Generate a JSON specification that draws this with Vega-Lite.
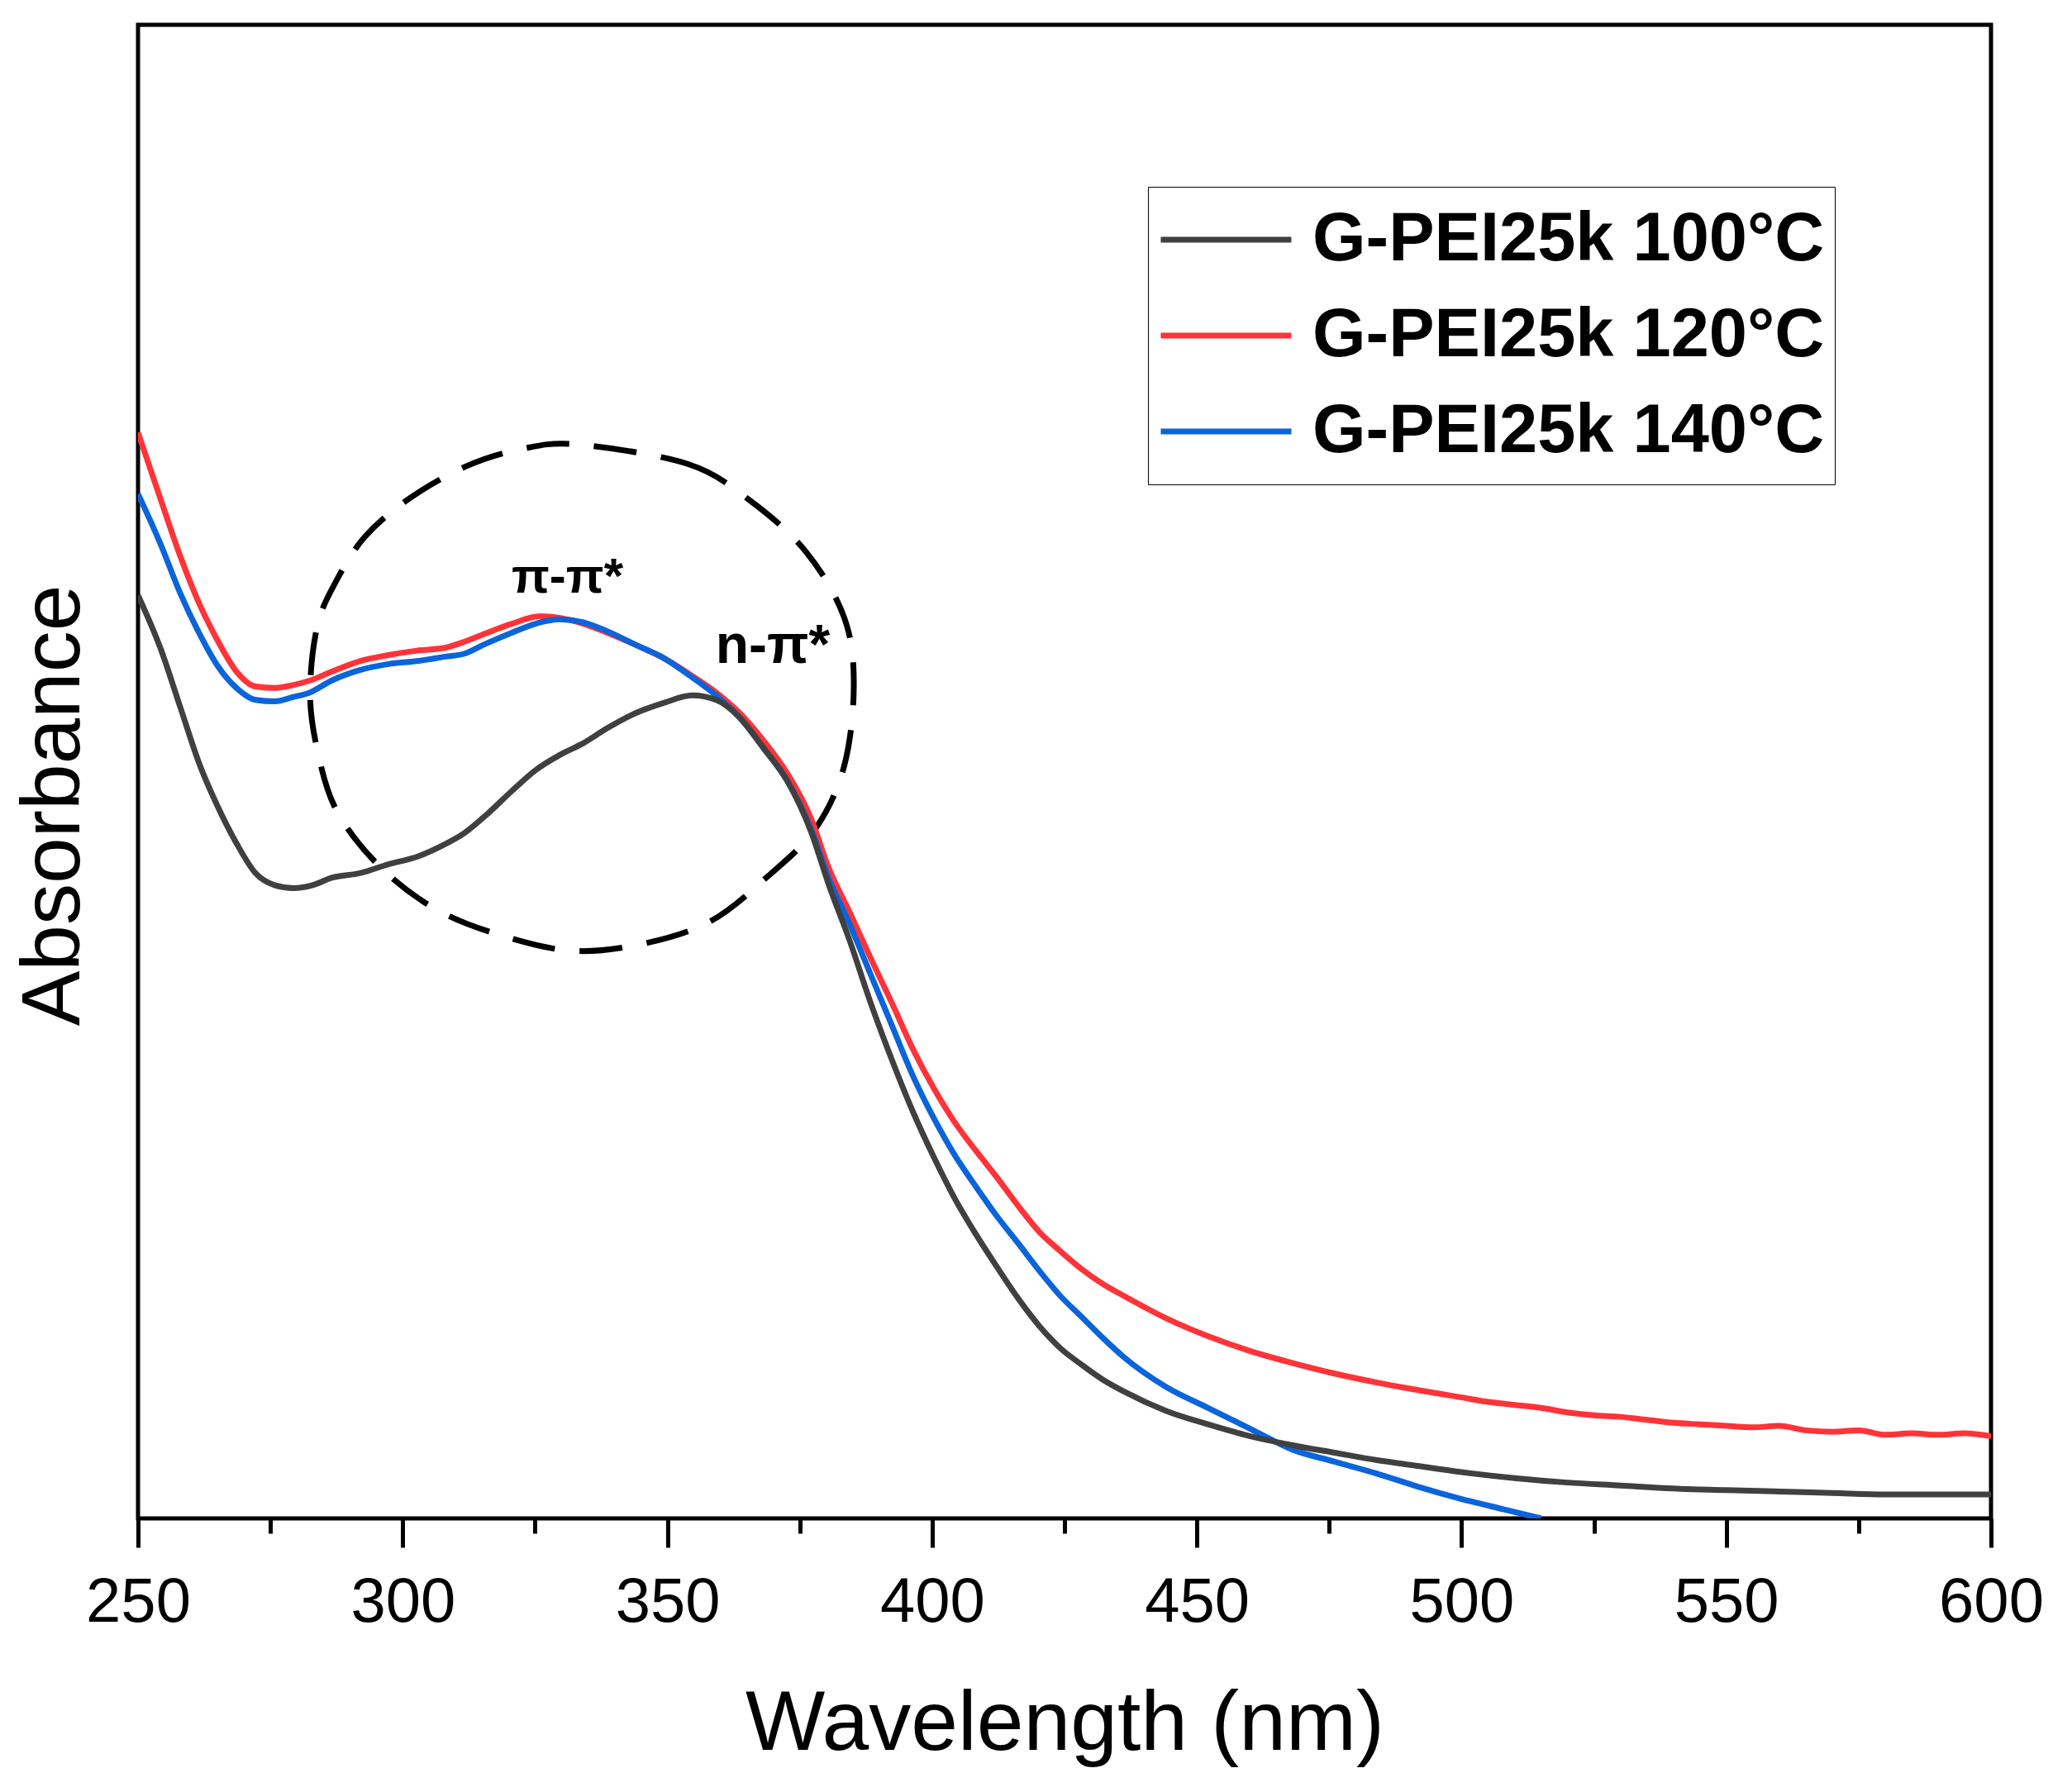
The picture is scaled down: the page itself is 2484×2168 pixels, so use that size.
{
  "$schema": "https://vega.github.io/schema/vega-lite/v6.json",
  "width": 2242,
  "height": 1807,
  "autosize": "none",
  "padding": {"left": 167, "top": 30, "right": 75, "bottom": 331},
  "background": "white",
  "config": {
    "font": "Liberation Sans",
    "view": {"stroke": "#000000", "strokeWidth": 5}
  },
  "datasets": {
    "spectra": [
      {"wl": 250, "abs": 0.727, "sample": "G-PEI25k 120°C"},
      {"wl": 254.3, "abs": 0.682, "sample": "G-PEI25k 120°C"},
      {"wl": 257.9, "abs": 0.645, "sample": "G-PEI25k 120°C"},
      {"wl": 261.5, "abs": 0.613, "sample": "G-PEI25k 120°C"},
      {"wl": 265.0, "abs": 0.588, "sample": "G-PEI25k 120°C"},
      {"wl": 268.6, "abs": 0.567, "sample": "G-PEI25k 120°C"},
      {"wl": 272.2, "abs": 0.557, "sample": "G-PEI25k 120°C"},
      {"wl": 275.8, "abs": 0.556, "sample": "G-PEI25k 120°C"},
      {"wl": 279.4, "abs": 0.558, "sample": "G-PEI25k 120°C"},
      {"wl": 282.5, "abs": 0.561, "sample": "G-PEI25k 120°C"},
      {"wl": 286.6, "abs": 0.567, "sample": "G-PEI25k 120°C"},
      {"wl": 291.9, "abs": 0.574, "sample": "G-PEI25k 120°C"},
      {"wl": 297.3, "abs": 0.578, "sample": "G-PEI25k 120°C"},
      {"wl": 302.7, "abs": 0.581, "sample": "G-PEI25k 120°C"},
      {"wl": 308.1, "abs": 0.583, "sample": "G-PEI25k 120°C"},
      {"wl": 311.7, "abs": 0.587, "sample": "G-PEI25k 120°C"},
      {"wl": 315.3, "abs": 0.592, "sample": "G-PEI25k 120°C"},
      {"wl": 320.6, "abs": 0.599, "sample": "G-PEI25k 120°C"},
      {"wl": 326.0, "abs": 0.604, "sample": "G-PEI25k 120°C"},
      {"wl": 329.6, "abs": 0.603, "sample": "G-PEI25k 120°C"},
      {"wl": 334.1, "abs": 0.599, "sample": "G-PEI25k 120°C"},
      {"wl": 338.6, "abs": 0.593, "sample": "G-PEI25k 120°C"},
      {"wl": 343.9, "abs": 0.585, "sample": "G-PEI25k 120°C"},
      {"wl": 349.3, "abs": 0.576, "sample": "G-PEI25k 120°C"},
      {"wl": 354.7, "abs": 0.564, "sample": "G-PEI25k 120°C"},
      {"wl": 359.2, "abs": 0.553, "sample": "G-PEI25k 120°C"},
      {"wl": 363.7, "abs": 0.539, "sample": "G-PEI25k 120°C"},
      {"wl": 368.1, "abs": 0.521, "sample": "G-PEI25k 120°C"},
      {"wl": 372.6, "abs": 0.499, "sample": "G-PEI25k 120°C"},
      {"wl": 377.2, "abs": 0.468, "sample": "G-PEI25k 120°C"},
      {"wl": 380.4, "abs": 0.436, "sample": "G-PEI25k 120°C"},
      {"wl": 384.4, "abs": 0.406, "sample": "G-PEI25k 120°C"},
      {"wl": 388.4, "abs": 0.375, "sample": "G-PEI25k 120°C"},
      {"wl": 392.4, "abs": 0.345, "sample": "G-PEI25k 120°C"},
      {"wl": 396.4, "abs": 0.314, "sample": "G-PEI25k 120°C"},
      {"wl": 400.3, "abs": 0.288, "sample": "G-PEI25k 120°C"},
      {"wl": 404.3, "abs": 0.265, "sample": "G-PEI25k 120°C"},
      {"wl": 408.3, "abs": 0.246, "sample": "G-PEI25k 120°C"},
      {"wl": 412.3, "abs": 0.228, "sample": "G-PEI25k 120°C"},
      {"wl": 416.3, "abs": 0.209, "sample": "G-PEI25k 120°C"},
      {"wl": 420.2, "abs": 0.192, "sample": "G-PEI25k 120°C"},
      {"wl": 424.2, "abs": 0.179, "sample": "G-PEI25k 120°C"},
      {"wl": 428.2, "abs": 0.167, "sample": "G-PEI25k 120°C"},
      {"wl": 432.2, "abs": 0.157, "sample": "G-PEI25k 120°C"},
      {"wl": 436.2, "abs": 0.149, "sample": "G-PEI25k 120°C"},
      {"wl": 444.2, "abs": 0.134, "sample": "G-PEI25k 120°C"},
      {"wl": 452.1, "abs": 0.122, "sample": "G-PEI25k 120°C"},
      {"wl": 460.1, "abs": 0.112, "sample": "G-PEI25k 120°C"},
      {"wl": 468.1, "abs": 0.104, "sample": "G-PEI25k 120°C"},
      {"wl": 476.0, "abs": 0.097, "sample": "G-PEI25k 120°C"},
      {"wl": 484.0, "abs": 0.091, "sample": "G-PEI25k 120°C"},
      {"wl": 490, "abs": 0.087, "sample": "G-PEI25k 120°C"},
      {"wl": 495, "abs": 0.084, "sample": "G-PEI25k 120°C"},
      {"wl": 500, "abs": 0.081, "sample": "G-PEI25k 120°C"},
      {"wl": 505, "abs": 0.078, "sample": "G-PEI25k 120°C"},
      {"wl": 510, "abs": 0.076, "sample": "G-PEI25k 120°C"},
      {"wl": 515, "abs": 0.074, "sample": "G-PEI25k 120°C"},
      {"wl": 520, "abs": 0.071, "sample": "G-PEI25k 120°C"},
      {"wl": 525, "abs": 0.069, "sample": "G-PEI25k 120°C"},
      {"wl": 530, "abs": 0.068, "sample": "G-PEI25k 120°C"},
      {"wl": 535, "abs": 0.066, "sample": "G-PEI25k 120°C"},
      {"wl": 540, "abs": 0.064, "sample": "G-PEI25k 120°C"},
      {"wl": 545, "abs": 0.063, "sample": "G-PEI25k 120°C"},
      {"wl": 550, "abs": 0.062, "sample": "G-PEI25k 120°C"},
      {"wl": 555, "abs": 0.061, "sample": "G-PEI25k 120°C"},
      {"wl": 560, "abs": 0.062, "sample": "G-PEI25k 120°C"},
      {"wl": 565, "abs": 0.059, "sample": "G-PEI25k 120°C"},
      {"wl": 570, "abs": 0.058, "sample": "G-PEI25k 120°C"},
      {"wl": 575, "abs": 0.059, "sample": "G-PEI25k 120°C"},
      {"wl": 580, "abs": 0.056, "sample": "G-PEI25k 120°C"},
      {"wl": 585, "abs": 0.057, "sample": "G-PEI25k 120°C"},
      {"wl": 590, "abs": 0.056, "sample": "G-PEI25k 120°C"},
      {"wl": 595, "abs": 0.057, "sample": "G-PEI25k 120°C"},
      {"wl": 600, "abs": 0.055, "sample": "G-PEI25k 120°C"},

      {"wl": 250, "abs": 0.686, "sample": "G-PEI25k 140°C"},
      {"wl": 254.3, "abs": 0.652, "sample": "G-PEI25k 140°C"},
      {"wl": 257.9, "abs": 0.620, "sample": "G-PEI25k 140°C"},
      {"wl": 261.5, "abs": 0.593, "sample": "G-PEI25k 140°C"},
      {"wl": 265.0, "abs": 0.571, "sample": "G-PEI25k 140°C"},
      {"wl": 268.6, "abs": 0.556, "sample": "G-PEI25k 140°C"},
      {"wl": 272.2, "abs": 0.548, "sample": "G-PEI25k 140°C"},
      {"wl": 275.8, "abs": 0.547, "sample": "G-PEI25k 140°C"},
      {"wl": 279.4, "abs": 0.550, "sample": "G-PEI25k 140°C"},
      {"wl": 282.5, "abs": 0.553, "sample": "G-PEI25k 140°C"},
      {"wl": 286.6, "abs": 0.561, "sample": "G-PEI25k 140°C"},
      {"wl": 291.9, "abs": 0.568, "sample": "G-PEI25k 140°C"},
      {"wl": 297.3, "abs": 0.572, "sample": "G-PEI25k 140°C"},
      {"wl": 302.7, "abs": 0.574, "sample": "G-PEI25k 140°C"},
      {"wl": 308.1, "abs": 0.577, "sample": "G-PEI25k 140°C"},
      {"wl": 311.7, "abs": 0.579, "sample": "G-PEI25k 140°C"},
      {"wl": 315.3, "abs": 0.585, "sample": "G-PEI25k 140°C"},
      {"wl": 320.6, "abs": 0.593, "sample": "G-PEI25k 140°C"},
      {"wl": 326.0, "abs": 0.600, "sample": "G-PEI25k 140°C"},
      {"wl": 329.6, "abs": 0.602, "sample": "G-PEI25k 140°C"},
      {"wl": 334.1, "abs": 0.600, "sample": "G-PEI25k 140°C"},
      {"wl": 338.6, "abs": 0.594, "sample": "G-PEI25k 140°C"},
      {"wl": 343.9, "abs": 0.585, "sample": "G-PEI25k 140°C"},
      {"wl": 349.3, "abs": 0.576, "sample": "G-PEI25k 140°C"},
      {"wl": 354.7, "abs": 0.563, "sample": "G-PEI25k 140°C"},
      {"wl": 359.2, "abs": 0.551, "sample": "G-PEI25k 140°C"},
      {"wl": 363.7, "abs": 0.536, "sample": "G-PEI25k 140°C"},
      {"wl": 368.1, "abs": 0.516, "sample": "G-PEI25k 140°C"},
      {"wl": 372.6, "abs": 0.494, "sample": "G-PEI25k 140°C"},
      {"wl": 377.2, "abs": 0.461, "sample": "G-PEI25k 140°C"},
      {"wl": 380.4, "abs": 0.429, "sample": "G-PEI25k 140°C"},
      {"wl": 384.4, "abs": 0.398, "sample": "G-PEI25k 140°C"},
      {"wl": 388.4, "abs": 0.364, "sample": "G-PEI25k 140°C"},
      {"wl": 392.4, "abs": 0.330, "sample": "G-PEI25k 140°C"},
      {"wl": 396.4, "abs": 0.296, "sample": "G-PEI25k 140°C"},
      {"wl": 400.3, "abs": 0.268, "sample": "G-PEI25k 140°C"},
      {"wl": 404.3, "abs": 0.243, "sample": "G-PEI25k 140°C"},
      {"wl": 408.3, "abs": 0.222, "sample": "G-PEI25k 140°C"},
      {"wl": 412.3, "abs": 0.202, "sample": "G-PEI25k 140°C"},
      {"wl": 416.3, "abs": 0.184, "sample": "G-PEI25k 140°C"},
      {"wl": 420.2, "abs": 0.166, "sample": "G-PEI25k 140°C"},
      {"wl": 424.2, "abs": 0.149, "sample": "G-PEI25k 140°C"},
      {"wl": 428.2, "abs": 0.135, "sample": "G-PEI25k 140°C"},
      {"wl": 432.2, "abs": 0.121, "sample": "G-PEI25k 140°C"},
      {"wl": 436.2, "abs": 0.108, "sample": "G-PEI25k 140°C"},
      {"wl": 444.2, "abs": 0.088, "sample": "G-PEI25k 140°C"},
      {"wl": 452.1, "abs": 0.074, "sample": "G-PEI25k 140°C"},
      {"wl": 460.1, "abs": 0.060, "sample": "G-PEI25k 140°C"},
      {"wl": 468.1, "abs": 0.046, "sample": "G-PEI25k 140°C"},
      {"wl": 476.0, "abs": 0.038, "sample": "G-PEI25k 140°C"},
      {"wl": 484.0, "abs": 0.030, "sample": "G-PEI25k 140°C"},
      {"wl": 492, "abs": 0.021, "sample": "G-PEI25k 140°C"},
      {"wl": 500, "abs": 0.013, "sample": "G-PEI25k 140°C"},
      {"wl": 508, "abs": 0.006, "sample": "G-PEI25k 140°C"},
      {"wl": 515, "abs": 0.0, "sample": "G-PEI25k 140°C"},

      {"wl": 250, "abs": 0.618, "sample": "G-PEI25k 100°C"},
      {"wl": 254.3, "abs": 0.582, "sample": "G-PEI25k 100°C"},
      {"wl": 257.9, "abs": 0.544, "sample": "G-PEI25k 100°C"},
      {"wl": 261.5, "abs": 0.506, "sample": "G-PEI25k 100°C"},
      {"wl": 265.0, "abs": 0.477, "sample": "G-PEI25k 100°C"},
      {"wl": 268.6, "abs": 0.452, "sample": "G-PEI25k 100°C"},
      {"wl": 272.2, "abs": 0.432, "sample": "G-PEI25k 100°C"},
      {"wl": 275.8, "abs": 0.424, "sample": "G-PEI25k 100°C"},
      {"wl": 279.4, "abs": 0.422, "sample": "G-PEI25k 100°C"},
      {"wl": 283.0, "abs": 0.424, "sample": "G-PEI25k 100°C"},
      {"wl": 286.6, "abs": 0.429, "sample": "G-PEI25k 100°C"},
      {"wl": 291.9, "abs": 0.432, "sample": "G-PEI25k 100°C"},
      {"wl": 297.3, "abs": 0.438, "sample": "G-PEI25k 100°C"},
      {"wl": 302.7, "abs": 0.443, "sample": "G-PEI25k 100°C"},
      {"wl": 307.2, "abs": 0.450, "sample": "G-PEI25k 100°C"},
      {"wl": 311.7, "abs": 0.459, "sample": "G-PEI25k 100°C"},
      {"wl": 316.1, "abs": 0.472, "sample": "G-PEI25k 100°C"},
      {"wl": 320.6, "abs": 0.487, "sample": "G-PEI25k 100°C"},
      {"wl": 325.1, "abs": 0.501, "sample": "G-PEI25k 100°C"},
      {"wl": 329.6, "abs": 0.511, "sample": "G-PEI25k 100°C"},
      {"wl": 334.1, "abs": 0.519, "sample": "G-PEI25k 100°C"},
      {"wl": 338.6, "abs": 0.529, "sample": "G-PEI25k 100°C"},
      {"wl": 343.9, "abs": 0.539, "sample": "G-PEI25k 100°C"},
      {"wl": 349.3, "abs": 0.546, "sample": "G-PEI25k 100°C"},
      {"wl": 354.7, "abs": 0.551, "sample": "G-PEI25k 100°C"},
      {"wl": 359.2, "abs": 0.548, "sample": "G-PEI25k 100°C"},
      {"wl": 363.7, "abs": 0.536, "sample": "G-PEI25k 100°C"},
      {"wl": 368.1, "abs": 0.516, "sample": "G-PEI25k 100°C"},
      {"wl": 372.6, "abs": 0.494, "sample": "G-PEI25k 100°C"},
      {"wl": 377.2, "abs": 0.459, "sample": "G-PEI25k 100°C"},
      {"wl": 380.4, "abs": 0.425, "sample": "G-PEI25k 100°C"},
      {"wl": 384.4, "abs": 0.387, "sample": "G-PEI25k 100°C"},
      {"wl": 388.4, "abs": 0.345, "sample": "G-PEI25k 100°C"},
      {"wl": 392.4, "abs": 0.307, "sample": "G-PEI25k 100°C"},
      {"wl": 396.4, "abs": 0.272, "sample": "G-PEI25k 100°C"},
      {"wl": 400.3, "abs": 0.242, "sample": "G-PEI25k 100°C"},
      {"wl": 404.3, "abs": 0.214, "sample": "G-PEI25k 100°C"},
      {"wl": 408.3, "abs": 0.190, "sample": "G-PEI25k 100°C"},
      {"wl": 412.3, "abs": 0.168, "sample": "G-PEI25k 100°C"},
      {"wl": 416.3, "abs": 0.147, "sample": "G-PEI25k 100°C"},
      {"wl": 420.2, "abs": 0.129, "sample": "G-PEI25k 100°C"},
      {"wl": 424.2, "abs": 0.114, "sample": "G-PEI25k 100°C"},
      {"wl": 428.2, "abs": 0.103, "sample": "G-PEI25k 100°C"},
      {"wl": 432.2, "abs": 0.093, "sample": "G-PEI25k 100°C"},
      {"wl": 436.2, "abs": 0.085, "sample": "G-PEI25k 100°C"},
      {"wl": 444.2, "abs": 0.072, "sample": "G-PEI25k 100°C"},
      {"wl": 452.1, "abs": 0.063, "sample": "G-PEI25k 100°C"},
      {"wl": 460.1, "abs": 0.055, "sample": "G-PEI25k 100°C"},
      {"wl": 468.1, "abs": 0.049, "sample": "G-PEI25k 100°C"},
      {"wl": 476.0, "abs": 0.044, "sample": "G-PEI25k 100°C"},
      {"wl": 484.0, "abs": 0.039, "sample": "G-PEI25k 100°C"},
      {"wl": 490, "abs": 0.036, "sample": "G-PEI25k 100°C"},
      {"wl": 500, "abs": 0.031, "sample": "G-PEI25k 100°C"},
      {"wl": 510, "abs": 0.027, "sample": "G-PEI25k 100°C"},
      {"wl": 520, "abs": 0.024, "sample": "G-PEI25k 100°C"},
      {"wl": 530, "abs": 0.022, "sample": "G-PEI25k 100°C"},
      {"wl": 540, "abs": 0.020, "sample": "G-PEI25k 100°C"},
      {"wl": 550, "abs": 0.019, "sample": "G-PEI25k 100°C"},
      {"wl": 560, "abs": 0.018, "sample": "G-PEI25k 100°C"},
      {"wl": 570, "abs": 0.017, "sample": "G-PEI25k 100°C"},
      {"wl": 580, "abs": 0.016, "sample": "G-PEI25k 100°C"},
      {"wl": 590, "abs": 0.016, "sample": "G-PEI25k 100°C"},
      {"wl": 600, "abs": 0.016, "sample": "G-PEI25k 100°C"}
    ],
    "ellipse": [
      {"i": 1, "wl": 333.2, "abs": 0.719},
      {"i": 2, "wl": 353.8, "abs": 0.706},
      {"i": 3, "wl": 365.4, "abs": 0.682},
      {"i": 4, "wl": 376.2, "abs": 0.647},
      {"i": 5, "wl": 383.4, "abs": 0.603},
      {"i": 6, "wl": 385.2, "abs": 0.558},
      {"i": 7, "wl": 383.4, "abs": 0.504},
      {"i": 8, "wl": 378.0, "abs": 0.462},
      {"i": 9, "wl": 369.0, "abs": 0.430},
      {"i": 10, "wl": 358.2, "abs": 0.400},
      {"i": 11, "wl": 345.7, "abs": 0.385},
      {"i": 12, "wl": 332.3, "abs": 0.380},
      {"i": 13, "wl": 318.9, "abs": 0.390},
      {"i": 14, "wl": 306.2, "abs": 0.408},
      {"i": 15, "wl": 295.5, "abs": 0.437},
      {"i": 16, "wl": 287.5, "abs": 0.474},
      {"i": 17, "wl": 283.9, "abs": 0.514},
      {"i": 18, "wl": 282.5, "abs": 0.553},
      {"i": 19, "wl": 283.9, "abs": 0.598},
      {"i": 20, "wl": 287.5, "abs": 0.628},
      {"i": 21, "wl": 292.8, "abs": 0.657},
      {"i": 22, "wl": 300.9, "abs": 0.682},
      {"i": 23, "wl": 311.7, "abs": 0.704},
      {"i": 24, "wl": 322.5, "abs": 0.716}
    ],
    "notes": [
      {"wl": 331.1, "abs": 0.630, "label": "π-π*", "size": 60},
      {"wl": 369.9, "abs": 0.584, "label": "n-π*", "size": 66}
    ]
  },
  "layer": [
    {
      "data": {"name": "ellipse"},
      "mark": {"type": "line", "stroke": "#000000", "strokeWidth": 7, "strokeDash": [52, 30], "interpolate": "cardinal-closed"},
      "encoding": {
        "x": {"field": "wl", "type": "quantitative"},
        "y": {"field": "abs", "type": "quantitative"},
        "order": {"field": "i"}
      }
    },
    {
      "data": {"name": "spectra"},
      "mark": {"type": "line", "strokeWidth": 7, "clip": true, "interpolate": "monotone"},
      "encoding": {
        "x": {
          "field": "wl",
          "type": "quantitative",
          "scale": {"domain": [250, 600], "nice": false, "zero": false},
          "axis": {
            "values": [250, 275, 300, 325, 350, 375, 400, 425, 450, 475, 500, 525, 550, 575, 600],
            "domain": false,
            "grid": false,
            "tickColor": "#000000",
            "tickWidth": 5,
            "tickSize": {"condition": {"test": "datum.value % 50 === 0", "value": 35}, "value": 18},
            "labelExpr": "datum.value % 50 === 0 ? datum.label : ''",
            "labelFont": "Liberation Sans",
            "labelFontSize": 76,
            "labelColor": "#000000",
            "labelPadding": 29,
            "labelFlush": false,
            "labelOverlap": false,
            "title": "Wavelength (nm)",
            "titleFont": "Liberation Sans",
            "titleFontSize": 102,
            "titleFontWeight": "normal",
            "titleColor": "#000000",
            "titleBaseline": "alphabetic",
            "titleY": 279
          }
        },
        "y": {
          "field": "abs",
          "type": "quantitative",
          "scale": {"domain": [0, 1], "nice": false},
          "axis": {
            "domain": false,
            "ticks": false,
            "labels": false,
            "grid": false,
            "title": "Absorbance",
            "titleFont": "Liberation Sans",
            "titleFontSize": 100,
            "titleFontWeight": "normal",
            "titleColor": "#000000",
            "titleAngle": -90,
            "titleAlign": "center",
            "titleBaseline": "alphabetic",
            "titleX": -72,
            "titleY": 944
          }
        },
        "color": {
          "field": "sample",
          "type": "nominal",
          "scale": {
            "domain": ["G-PEI25k 100°C", "G-PEI25k 120°C", "G-PEI25k 140°C"],
            "range": ["#404040", "#ff3338", "#0a64dc"]
          },
          "legend": {
            "orient": "none",
            "legendX": 1222,
            "legendY": 196,
            "title": null,
            "strokeColor": "#000000",
            "padding": 12,
            "symbolType": "stroke",
            "symbolSize": 24964,
            "symbolStrokeWidth": 7,
            "clipHeight": 104,
            "rowPadding": 12,
            "labelOffset": 22,
            "labelFont": "Liberation Sans",
            "labelFontSize": 83,
            "labelFontWeight": "bold",
            "labelColor": "#000000",
            "labelLimit": 0
          }
        }
      }
    },
    {
      "data": {"name": "notes"},
      "mark": {"type": "text", "font": "Liberation Sans", "fontWeight": "bold", "color": "#000000"},
      "encoding": {
        "x": {"field": "wl", "type": "quantitative"},
        "y": {"field": "abs", "type": "quantitative"},
        "text": {"field": "label"},
        "size": {"field": "size", "type": "quantitative", "scale": null, "legend": null}
      }
    }
  ]
}
